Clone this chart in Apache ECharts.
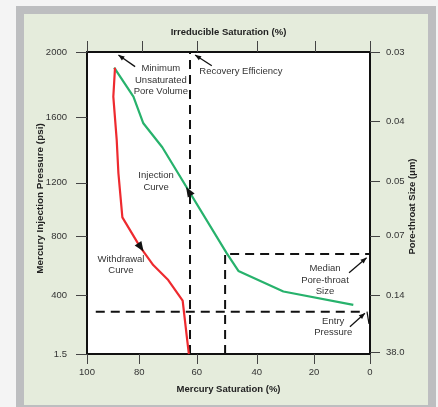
<!DOCTYPE html>
<html><head><meta charset="utf-8">
<script src="https://cdn.jsdelivr.net/npm/echarts@6/dist/echarts.min.js"></script>
<style>html,body{margin:0;padding:0;background:#f4f4f4;}#c{width:438px;height:407px;}</style>
</head><body><div id="c"></div>
<script>
// Injection curve (green): mercury saturation (%) vs pressure (axis units)
const injSat = [90.4, 83.6, 80.1, 73.4, 50.6, 46.5, 30.6, 5.9];
const injP   = [1896, 1704, 1528, 1369, 666, 550, 414, 325];
// Withdrawal curve (red)
const wdSat = [90.1, 90.7, 89.5, 88.9, 87.5, 81.3, 76.6, 71.3, 66.2, 64.6, 64.0];
const wdP   = [1896, 1704, 1417, 1197, 905, 711, 589, 490, 353, 93, 0];
// Reference dashed lines
const recoverySat = 63.6;
const medianSat = 51.2, medianP = 662, medianEndSat = 0.35;
const entryP = 280, entryStartSat = 96.9, entryEndSat = 1.8;
// Tick positions and labels
const xTickPos = [100, 81.5, 61.2, 40, 19.8, 0];
const xTickLabels = ['100', '80', '60', '40', '20', '0'];
const xTopTickPos = [100, 80.6, 61.1, 39.9, 19.4, 0];
const yTickPos = [0, 386, 777, 1134, 1570, 2000];
const yTickLabels = ['1.5', '400', '800', '1200', '1600', '2000'];
const yRightTickPos = [9, 386, 783, 1141, 1543, 2000];
const yRightTickLabels = ['38.0', '0.14', '0.07', '0.05', '0.04', '0.03'];

const FONT = "'Liberation Sans', Arial, Helvetica, sans-serif";
const chart = echarts.init(document.getElementById('c'), null, {renderer: 'canvas'});

function lbl(pos, labels) {
  return v => { const i = pos.findIndex(p => Math.abs(p - v) < 1e-6); return i >= 0 ? labels[i] : ''; };
}
const tickStyle = {color: '#444', width: 1};
const axisLine = {show: true, onZero: false, lineStyle: {color: '#111', width: 2}};
const labelStyle = {color: '#333', fontSize: 9.5, fontFamily: FONT};
const nameStyle = {color: '#222', fontSize: 9.5, fontWeight: 'bold', fontFamily: FONT};

const option = {
  animation: false,
  backgroundColor: '#f4f4f4',
  grid: {left: 87, top: 52, right: 68, bottom: 53, show: true, backgroundColor: '#ffffff', borderWidth: 0, containLabel: false, outerBoundsMode: 'none'},
  xAxis: [
    {type: 'value', position: 'bottom', inverse: true, min: 0, max: 100,
     axisLine, splitLine: {show: false},
     axisTick: {show: true, inside: false, length: 10, lineStyle: tickStyle, customValues: xTickPos},
     axisLabel: Object.assign({margin: 13, customValues: xTickPos, formatter: lbl(xTickPos, xTickLabels)}, labelStyle),
     name: 'Mercury Saturation (%)', nameLocation: 'middle', nameGap: 30, nameMoveOverlap: false, nameTextStyle: nameStyle},
    {type: 'value', position: 'top', inverse: true, min: 0, max: 100,
     axisLine, splitLine: {show: false},
     axisTick: {show: true, inside: false, length: 11, lineStyle: tickStyle, customValues: xTopTickPos},
     axisLabel: {show: false},
     name: 'Irreducible Saturation (%)', nameLocation: 'middle', nameGap: 15, nameMoveOverlap: false, nameTextStyle: nameStyle}
  ],
  yAxis: [
    {type: 'value', position: 'left', min: 0, max: 2000,
     axisLine, splitLine: {show: false},
     axisTick: {show: true, inside: false, length: 11, lineStyle: tickStyle, customValues: yTickPos},
     axisLabel: Object.assign({margin: 20, customValues: yTickPos, formatter: lbl(yTickPos, yTickLabels)}, labelStyle),
     name: 'Mercury Injection Pressure (psi)', nameLocation: 'middle', nameRotate: 90, nameGap: 42, nameMoveOverlap: false,
     nameTextStyle: Object.assign({}, nameStyle, {fontSize: 9.9, padding: [0, 0, 0, 9]})},
    {type: 'value', position: 'right', min: 0, max: 2000,
     axisLine, splitLine: {show: false},
     axisTick: {show: true, inside: false, length: 10, lineStyle: tickStyle, customValues: yRightTickPos},
     axisLabel: Object.assign({margin: 16, customValues: yRightTickPos, formatter: lbl(yRightTickPos, yRightTickLabels)}, labelStyle),
     name: 'Pore-throat Size (μm)', nameLocation: 'middle', nameRotate: 90, nameGap: 37, nameMoveOverlap: false,
     nameTextStyle: Object.assign({}, nameStyle, {padding: [0, 7, 0, 0]})}
  ],
  series: [
    {type: 'line', name: 'recovery', symbol: 'none', z: 3,
     data: [[recoverySat, 0], [recoverySat, 2000]],
     lineStyle: {color: '#111', width: 2, type: [9, 6]}},
    {type: 'line', name: 'median', symbol: 'none', z: 3,
     data: [[medianSat, 0], [medianSat, medianP], [medianEndSat, medianP]],
     lineStyle: {color: '#111', width: 2, type: [9, 6]}},
    {type: 'line', name: 'entry', symbol: 'none', z: 3,
     data: [[entryStartSat, entryP], [entryEndSat, entryP]],
     lineStyle: {color: '#111', width: 2, type: [9, 6]}},
    {type: 'line', name: 'Injection', symbol: 'none', z: 4,
     data: injSat.map((s, i) => [s, injP[i]]),
     lineStyle: {color: '#27b26c', width: 2.2}},
    {type: 'line', name: 'Withdrawal', symbol: 'none', z: 4,
     data: wdSat.map((s, i) => [s, wdP[i]]),
     lineStyle: {color: '#ee2a2f', width: 2.2}}
  ]
};
chart.setOption(option);

// Annotations (anchors in data units, converted through the chart's scales)
const px = p => chart.convertToPixel({xAxisIndex: 0, yAxisIndex: 0}, p);
function head(tip, tail, len, w) {
  const [tx, ty] = px(tip), [bx, by] = px(tail);
  let dx = tx - bx, dy = ty - by; const d = Math.hypot(dx, dy); dx /= d; dy /= d;
  const cx = tx - dx * len, cy = ty - dy * len, nx = -dy, ny = dx;
  return {type: 'polygon', z: 100, shape: {points: [[tx, ty], [cx + nx * w / 2, cy + ny * w / 2], [cx - nx * w / 2, cy - ny * w / 2]]}, style: {fill: '#111'}};
}
function arrow(tail, tip) {
  const a = px(tail), b = px(tip);
  return [{type: 'line', z: 100, shape: {x1: a[0], y1: a[1], x2: b[0], y2: b[1]}, style: {stroke: '#111', lineWidth: 1.3}},
          head(tip, tail, 6, 5)];
}
function text(str, at, align) {
  const p = px(at);
  return {type: 'text', z: 100, x: p[0], y: p[1], style: {text: str, fill: '#333', font: '9.5px ' + FONT, align: align || 'center', verticalAlign: 'middle', lineHeight: 11.5}};
}
const g = [
  {type: 'rect', z: -10, shape: {x: 16, y: 6, width: 420, height: 401}, style: {fill: '#bdbec0'}},
  {type: 'rect', z: -9, shape: {x: 24, y: 14, width: 404, height: 391}, style: {fill: '#e5ecdc'}},
  ...arrow([83.0, 1903], [88.9, 1980]),
  ...arrow([55.9, 1909], [61.8, 1980]),
  ...arrow([7.4, 538], [1.2, 638]),
  ...arrow([7.1, 181], [1.8, 270]),
  text('Minimum\nUnsaturated\nPore Volume', [73.9, 1814]),
  text('Recovery Efficiency', [60.3, 1870], 'left'),
  text('Injection\nCurve', [75.6, 1144]),
  text('Withdrawal\nCurve', [88.0, 589]),
  text('Median\nPore-throat\nSize', [15.9, 488]),
  text('Entry\nPressure', [13.0, 179]),
  head([65.0, 1106], [63.2, 1050], 10, 8),
  head([80.0, 679], [82.0, 735], 10, 8)
];
(function () {
  const a = px([1.06, 280]), b = px([0.35, 199]);
  g.push({type: 'line', z: 100, shape: {x1: a[0], y1: a[1], x2: b[0], y2: b[1]}, style: {stroke: '#111', lineWidth: 1.2}});
})();
chart.setOption({graphic: g});
</script></body></html>
